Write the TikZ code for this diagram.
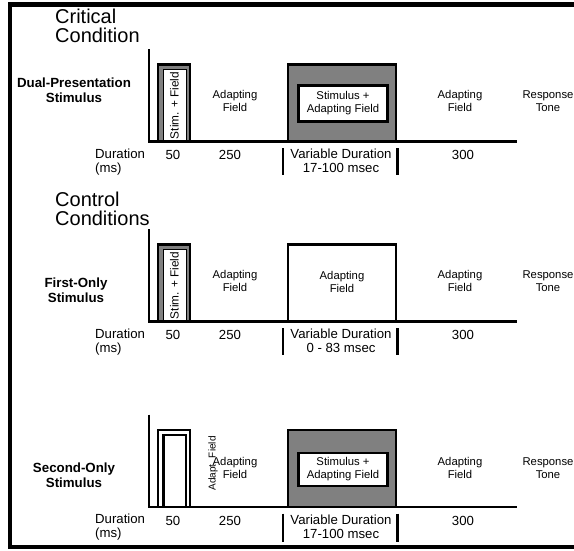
\documentclass[tikz,border=0pt]{standalone}
\usepackage{fontspec}
\setmainfont{Liberation Sans}
\definecolor{midgray}{HTML}{808080}
\begin{document}
\begin{tikzpicture}[x=1pt,y=-1pt,
  frame/.style={line width=4.5pt, line join=miter},
  axisline/.style={line width=2pt},
  baseline/.style={line width=2.6pt},
  barline/.style={line width=2.5pt},
  blockline/.style={line width=2.5pt},
  sf/.style={font=\fontsize{11.3}{12.5}\selectfont, align=center, inner sep=0pt},
  dur/.style={font=\fontsize{13.2}{14}\selectfont, align=center, inner sep=0pt},
  durleft/.style={font=\fontsize{13.2}{14}\selectfont, align=left, inner sep=0pt, anchor=west},
  cond/.style={font=\bfseries\fontsize{13.3}{15}\selectfont, align=center, inner sep=0pt},
  ttl/.style={font=\fontsize{20}{18.5}\selectfont, align=left, inner sep=0pt, anchor=west},
  rot/.style={font=\fontsize{11.8}{13}\selectfont, rotate=90, inner sep=0pt}
]
\useasboundingbox (0,0) rectangle (574,550);
% frame
\draw[frame] (574,4.5) -- (10,4.5) -- (10,547) -- (574,547);

% ---------- Panel 1: critical ----------
\node[ttl] (t1) at (55,26) {Critical\\Condition};
\node[cond] (c1) at (74,90.5) {Dual-Presentation\\Stimulus};
\draw[axisline] (149,49) -- (149,141.5);
\draw[baseline] (148,141.5) -- (517,141.5);
\draw[blockline, fill=midgray] (158,64.5) rectangle (190,141.5);
\draw[line width=0.8pt, fill=white] (163.5,69) rectangle (186,140.5);
\node[rot] (s1) at (174.5,105.5) {Stim. + Field};
\node[sf] (a1) at (235,101) {Adapting\\Field};
\draw[blockline, fill=midgray] (288,64.5) rectangle (396,141.5);
\draw[blockline, fill=white] (298.5,85.5) rectangle (387.5,121.5);
\node[sf] (g1) at (343,103) {Stimulus +\\Adapting Field};
\node[sf] (r1) at (460,101) {Adapting\\Field};
\node[sf] (p1) at (548,101) {Response\\Tone};
\node[durleft] (d1) at (95,162) {Duration\\(ms)};
\node[dur] (n1) at (173,155) {50};
\node[dur] (m1) at (230,155) {250};
\node[dur] (v1) at (341,161) {Variable Duration\\17-100 msec};
\node[dur] (o1) at (463,155) {300};
\draw[barline] (283,148) -- (283,175);
\draw[barline] (397.5,148) -- (397.5,175);

% ---------- Panel 2: first only ----------
\node[ttl] (t2) at (55,209) {Control\\Conditions};
\begin{scope}[shift={(0,180)}]
\node[cond] (c2) at (76,110) {First-Only\\Stimulus};
\draw[axisline] (149,49) -- (149,141.5);
\draw[baseline] (148,141.5) -- (517,141.5);
\draw[blockline, fill=midgray] (158,64.5) rectangle (190,141.5);
\draw[line width=0.8pt, fill=white] (163.5,69) rectangle (186,140.5);
\node[rot] (s2) at (174.5,105.5) {Stim. + Field};
\node[sf] (a2) at (235,101) {Adapting\\Field};
\draw[blockline, fill=white] (288,64.5) rectangle (396,141.5);
\node[sf] (g2) at (342,102) {Adapting\\Field};
\node[sf] (r2) at (460,101) {Adapting\\Field};
\node[sf] (p2) at (548,101) {Response\\Tone};
\node[durleft] (d2) at (95,162) {Duration\\(ms)};
\node[dur] (n2) at (173,155) {50};
\node[dur] (m2) at (230,155) {250};
\node[dur] (v2) at (341,161) {Variable Duration\\0 - 83 msec};
\node[dur] (o2) at (463,155) {300};
\draw[barline] (283,148) -- (283,175);
\draw[barline] (397.5,148) -- (397.5,175);
\end{scope}

% ---------- Panel 3: second only ----------
\begin{scope}[shift={(0,365.5)}]
\node[cond] (c3) at (74,109.5) {Second-Only\\Stimulus};
\draw[axisline] (149,49) -- (149,141.5);
\draw[baseline] (148,141.5) -- (517,141.5);
\draw[blockline, fill=white] (158,64.5) rectangle (190,141.5);
\draw[blockline] (163.5,69.5) rectangle (186,141.5);
\node[rot, font=\fontsize{10}{12}\selectfont] (s3) at (213,98) {Adapt. Field};
\node[sf] (a3) at (235,102.5) {Adapting\\Field};
\draw[blockline, fill=midgray] (288,64.5) rectangle (396,141.5);
\draw[blockline, fill=white] (298.5,87.5) rectangle (387.5,120.5);
\node[sf] (g3) at (343,103.5) {Stimulus +\\Adapting Field};
\node[sf] (r3) at (460,102.5) {Adapting\\Field};
\node[sf] (p3) at (548,102.5) {Response\\Tone};
\node[durleft] (d3) at (95,162) {Duration\\(ms)};
\node[dur] (n3) at (173,155) {50};
\node[dur] (m3) at (230,155) {250};
\node[dur] (v3) at (341,161) {Variable Duration\\17-100 msec};
\node[dur] (o3) at (463,155) {300};
\draw[barline] (283,148) -- (283,176);
\draw[barline] (397.5,148) -- (397.5,176);
\end{scope}
\end{tikzpicture}
\end{document}
